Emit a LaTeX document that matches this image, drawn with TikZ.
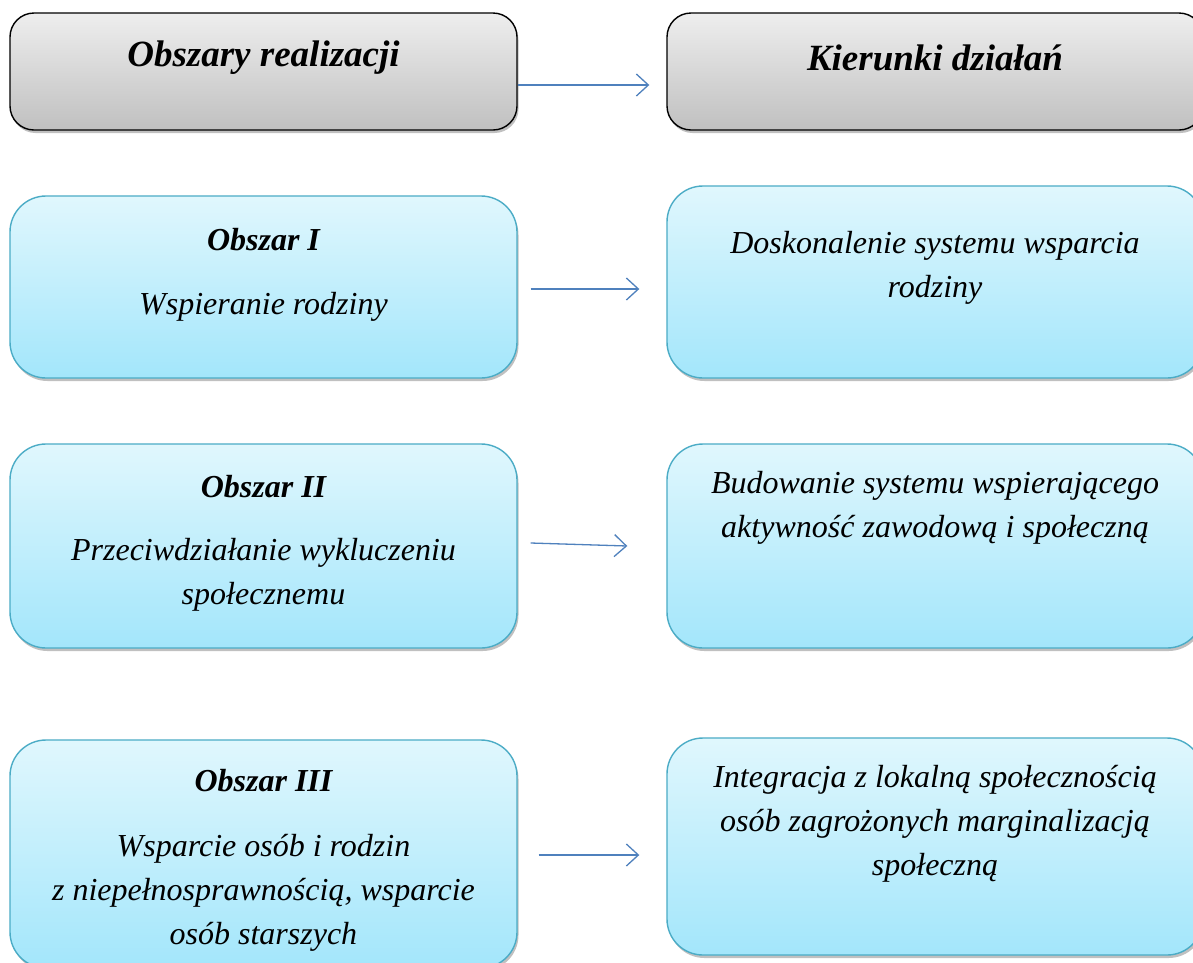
\documentclass[tikz,border=0pt]{standalone}
\usepackage{fontspec}
\setmainfont{Liberation Serif}
\usetikzlibrary{arrows.meta,shadows}
\definecolor{bluetop}{HTML}{E0F7FD}
\definecolor{bluebot}{HTML}{A3E6FB}
\definecolor{blueedge}{HTML}{4BACC6}
\definecolor{graytop}{HTML}{EEEEEE}
\definecolor{graybot}{HTML}{C0C0C0}
\definecolor{arrowblue}{HTML}{4F81BD}
\tikzset{
  boxshadow/.style={drop shadow={shadow xshift=1.5pt,shadow yshift=-3pt,opacity=0.35,fill=black!70}},
  hdrbox/.style={draw=black,line width=1.4pt,rounded corners=24pt,top color=graytop,bottom color=graybot,boxshadow,inner sep=0pt},
  bluebox/.style={draw=blueedge,line width=1.4pt,rounded corners=36pt,top color=bluetop,bottom color=bluebot,boxshadow,inner sep=0pt},
  hdrtext/.style={font=\fontsize{37}{42}\selectfont\bfseries\itshape,inner sep=0pt},
  titletext/.style={font=\fontsize{32}{44}\selectfont\bfseries\itshape,inner sep=0pt},
  bodytext/.style={font=\fontsize{32}{44}\selectfont\itshape,align=center,inner sep=0pt},
  conn/.style={draw=arrowblue,line width=1.3pt,-{Straight Barb[length=12pt,width=22pt,line width=1.3pt]}}
}
\begin{document}
\begin{tikzpicture}[x=1pt,y=-1pt]
\useasboundingbox (0,0) rectangle (1193,962);
\clip (0,0) rectangle (1193,962);
\fill[white] (0,0) rectangle (1193,962);
% header
\node[hdrbox,minimum width=507pt,minimum height=117pt] (hl) at (263.5,71.5) {};
\node[hdrbox,minimum width=536pt,minimum height=117pt] (hr) at (935,71.5) {};
\node[hdrtext] (hlt) at (263.5,58) {Obszary realizacji};
\node[hdrtext] (hrt) at (935,58) {Kierunki działań};
% row 1
\node[bluebox,minimum width=507pt,minimum height=182pt] (l1) at (263.5,287) {};
\node[bluebox,minimum width=536pt,minimum height=192pt] (r1) at (935,282) {};
\node[titletext] (l1t) at (263.5,240) {Obszar I};
\node[bodytext] (l1b) at (263.5,307) {Wspieranie rodziny};
\node[bodytext] (r1b) at (935,268) {Doskonalenie systemu wsparcia\\rodziny};
% row 2
\node[bluebox,minimum width=507pt,minimum height=204pt] (l2) at (263.5,546) {};
\node[bluebox,minimum width=536pt,minimum height=204pt] (r2) at (935,546) {};
\node[titletext] (l2t) at (263.5,487) {Obszar II};
\node[bodytext] (l2b) at (263.5,575) {Przeciwdziałanie wykluczeniu\\społecznemu};
\node[bodytext] (r2b) at (935,508) {Budowanie systemu wspierającego\\aktywność zawodową i społeczną};
% row 3
\node[bluebox,minimum width=507pt,minimum height=228pt] (l3) at (263.5,854) {};
\node[bluebox,minimum width=536pt,minimum height=217pt] (r3) at (935,846.5) {};
\node[titletext] (l3t) at (263.5,781) {Obszar III};
\node[bodytext] (l3b) at (263.5,893) {Wsparcie osób i rodzin\\z niepełnosprawnością, wsparcie\\osób starszych};
\node[bodytext] (r3b) at (935,824) {Integracja z lokalną społecznością\\osób zagrożonych marginalizacją\\społeczną};
% connectors
\draw[conn] ([yshift=-13.5pt]hl.east) -- ([yshift=-13.5pt,xshift=-17pt]hr.west);
\draw[conn] ([xshift=13pt,yshift=-2pt]l1.east) -- ([xshift=-27pt,yshift=-7pt]r1.west);
\draw[conn] ([xshift=13pt,yshift=3pt]l2.east) -- ([xshift=-39pt]r2.west);
\draw[conn] ([xshift=21pt,yshift=-1pt]l3.east) -- ([xshift=-27pt,yshift=-8.5pt]r3.west);
\end{tikzpicture}
\end{document}
